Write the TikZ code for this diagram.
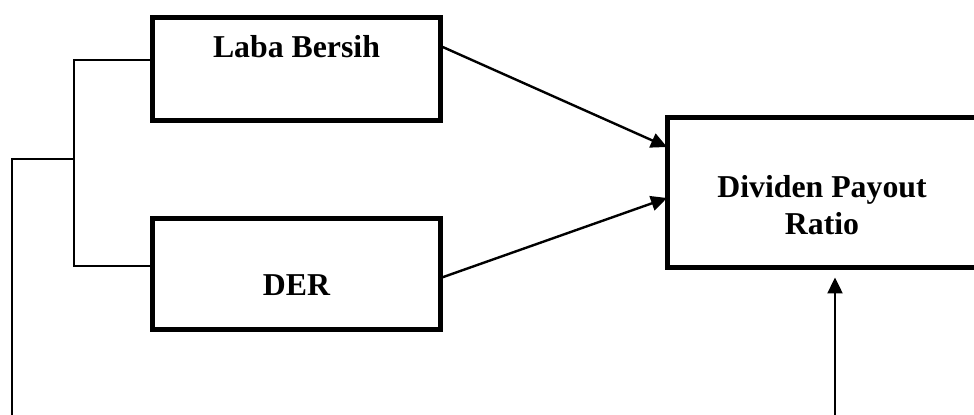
\documentclass[tikz,border=0pt]{standalone}
\usepackage{fontspec}
\setmainfont{Liberation Serif}
\usetikzlibrary{arrows.meta}
\tikzset{
  boxnode/.style={draw, line width=2.5pt, inner sep=0pt, outer sep=0pt, rectangle},
  lbl/.style={font=\fontsize{15.9}{18.5}\selectfont\bfseries, inner sep=0pt, align=center},
  arr/.style={line width=1.2pt, -{Triangle[length=8pt,width=7.5pt]}},
  thinline/.style={line width=0.9pt}
}
\begin{document}
\begin{tikzpicture}[x=0.5pt,y=-0.5pt]
\path[use as bounding box, clip] (0,0) rectangle (974,415);
% boxes
\node[boxnode, minimum width=144pt, minimum height=51.5pt] (lb) at (296.5,69) {};
\node[boxnode, minimum width=144pt, minimum height=55.5pt] (der) at (296.5,274) {};
\node[boxnode, minimum width=166.5pt, minimum height=75pt] (dpr) at (833.5,193) {};
% labels
\node[lbl, anchor=base] (tlb) at (296.5,58) {Laba Bersih};
\node[lbl, anchor=base] (tder) at (296.5,296) {DER};
\node[lbl] (tdpr) at (822,205) {Dividen Payout\\Ratio};
% arrows
\draw[arr] ([yshift=11.5pt]lb.east) -- ([yshift=23pt]dpr.west);
\draw[arr] ([yshift=-2pt]der.east) -- ([yshift=-2.5pt]dpr.west);
\coordinate (vb) at (835,415);
\draw[arr] (vb) -- ([yshift=-4.75pt]dpr.south -| vb);
% bracket
\coordinate (bx) at (74,159);
\coordinate (lft) at (12,159);
\coordinate (lbot) at (12,415);
\draw[thinline] ([yshift=4.5pt]lb.west) -| (bx) |- ([yshift=4pt]der.west);
\draw[thinline] (bx) -- (lft) -- (lbot);
\end{tikzpicture}
\end{document}
